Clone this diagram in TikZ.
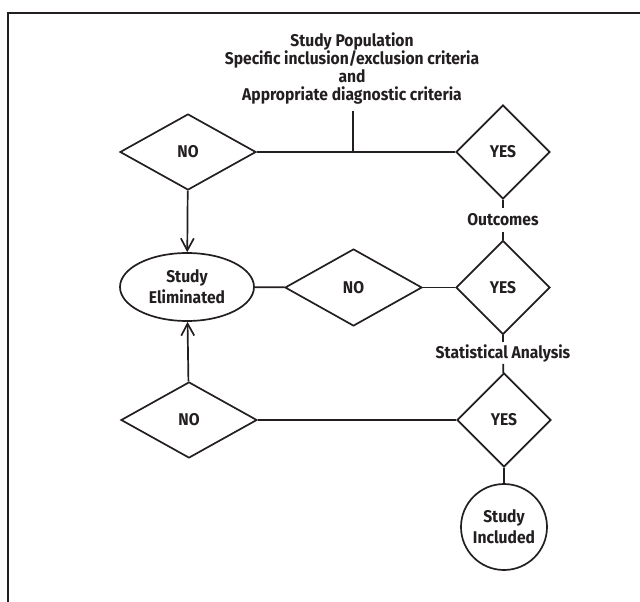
\documentclass[tikz,border=0pt]{standalone}
\usepackage{fontspec}
\setmainfont{Fira Sans}[FakeStretch=0.92]
\usetikzlibrary{shapes.geometric,arrows.meta}
\definecolor{ink}{HTML}{231F20}
\begin{document}
\begin{tikzpicture}[x=1pt,y=-1pt,
  every node/.style={font=\bfseries\fontsize{17}{18}\selectfont, text=ink},
  line/.style={draw=ink, line width=1.7pt},
  dia/.style={draw=ink, line width=1.7pt, diamond, aspect=1, inner sep=0pt},
  nodia/.style={dia, minimum width=136pt, minimum height=76pt},
  yesdia/.style={dia, minimum width=94pt, minimum height=94pt},
  lab/.style={inner sep=0pt},
  arr/.style={line, -{Straight Barb[length=12pt,width=13pt,line width=1.7pt]}}
]
\useasboundingbox (0,0) rectangle (640,602);
% frame
\draw[draw=ink, line width=2pt] (8,602) -- (8,13) -- (640,13);

% title
\node[lab, align=center] (title) at (352,68.5)
  {Study Population\\Specific inclusion/exclusion criteria\\and\\Appropriate diagnostic criteria};
\coordinate (stemtop) at (353,111);
\coordinate (junc) at (353,152);

% row 1
\node[nodia] (no1) at (188,152) {NO};
\node[yesdia] (yes1) at (503,152) {YES};
\node[lab, inner ysep=6pt] (outc) at (503,220) {Outcomes};

% row 2
\node[draw=ink, line width=1.7pt, ellipse, minimum width=134pt, minimum height=68pt,
      inner sep=0pt, align=center, font=\bfseries\fontsize{17}{21}\selectfont]
      (elim) at (187,287) {Study\\Eliminated};
\node[nodia, minimum width=137pt, minimum height=77pt] (no2) at (353.5,287.5) {NO};
\node[yesdia] (yes2) at (503,287.5) {YES};
\node[lab, inner ysep=2pt] (stat) at (503,353) {Statistical Analysis};

% row 3
\node[nodia] (no3) at (189,420) {NO};
\node[yesdia] (yes3) at (504,420) {YES};
\node[draw=ink, line width=1.7pt, circle, minimum size=86pt, inner sep=0pt,
      align=center, font=\bfseries\fontsize{17}{21}\selectfont]
      (incl) at (504,527) {Study\\Included};

% connectors
\draw[line] (stemtop) -- (junc);
\draw[line] (no1) -- (yes1);
\draw[line] (yes1) -- (outc);
\draw[line] (outc) -- (yes2);
\draw[arr] (no1) -- (elim);
\draw[line] (elim) -- (no2);
\draw[line] (no2) -- (yes2);
\draw[line] (yes2) -- (stat);
\draw[line] (stat) -- (yes3);
\draw[arr] (no3) -- (elim);
\draw[line] (no3) -- (yes3);
\draw[line] (yes3) -- (incl);
\end{tikzpicture}
\end{document}
